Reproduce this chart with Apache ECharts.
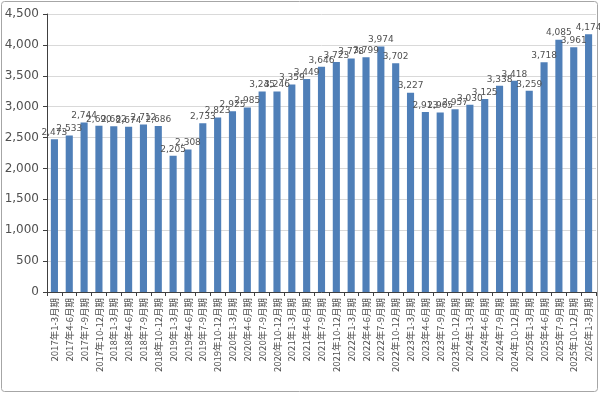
<!DOCTYPE html>
<html><head><meta charset="utf-8">
<script src="https://cdn.jsdelivr.net/npm/echarts@6/dist/echarts.min.js"></script>
<style>html,body{margin:0;padding:0;background:#fff}#c{width:600px;height:394px}</style>
</head><body><div id="c"></div>
<script>
const years = [2017,2017,2017,2017,2018,2018,2018,2018,2019,2019,2019,2019,2020,2020,2020,2020,2021,2021,2021,2021,2022,2022,2022,2022,2023,2023,2023,2023,2024,2024,2024,2024,2025,2025,2025,2025,2026];
const quarters = ['1-3','4-6','7-9','10-12','1-3','4-6','7-9','10-12','1-3','4-6','7-9','10-12','1-3','4-6','7-9','10-12','1-3','4-6','7-9','10-12','1-3','4-6','7-9','10-12','1-3','4-6','7-9','10-12','1-3','4-6','7-9','10-12','1-3','4-6','7-9','10-12','1-3'];
const categories = years.map((y,i)=>y+'年'+quarters[i]+'月期');
const values = [2473,2533,2744,2690,2682,2674,2712,2686,2205,2308,2733,2823,2925,2985,3245,3246,3359,3449,3646,3723,3778,3799,3974,3702,3227,2913,2905,2957,3030,3125,3338,3418,3259,3718,4085,3961,4174];
const yTicks = [0,500,1000,1500,2000,2500,3000,3500,4000,4500];

const chart = echarts.init(document.getElementById('c'));
chart.setOption({
  animation:false,
  graphic:[{type:'rect',shape:{x:1.5,y:1.5,width:596,height:390,r:3},style:{fill:'none',stroke:'#a6a6a6',lineWidth:1}}],
  grid:{left:47,right:4,top:14,bottom:102},
  xAxis:{type:'category',data:categories,
    axisLine:{lineStyle:{color:'#404040',width:1}},
    axisTick:{show:true,length:4,lineStyle:{color:'#404040'}},
    axisLabel:{rotate:90,interval:0,fontSize:9.5,color:'#505050',fontFamily:'Noto Sans CJK JP',margin:6}},
  yAxis:{type:'value',min:yTicks[0],max:yTicks[yTicks.length-1],interval:500,
    axisLine:{show:true,lineStyle:{color:'#404040'}},
    axisTick:{show:true,length:4,lineStyle:{color:'#404040'}},
    splitLine:{lineStyle:{color:'#d9d9d9'}},
    axisLabel:{fontSize:12,color:'#505050',fontFamily:'DejaVu Sans',margin:8,
      formatter:v=>v.toLocaleString('en-US')}},
  series:[{type:'bar',data:values,barWidth:'48%',
    itemStyle:{color:'#4f7fb8'},
    label:{show:true,position:'top',distance:2,fontSize:9,color:'#505050',fontFamily:'DejaVu Sans',
      formatter:p=>p.value.toLocaleString('en-US')}}]
});
</script></body></html>
